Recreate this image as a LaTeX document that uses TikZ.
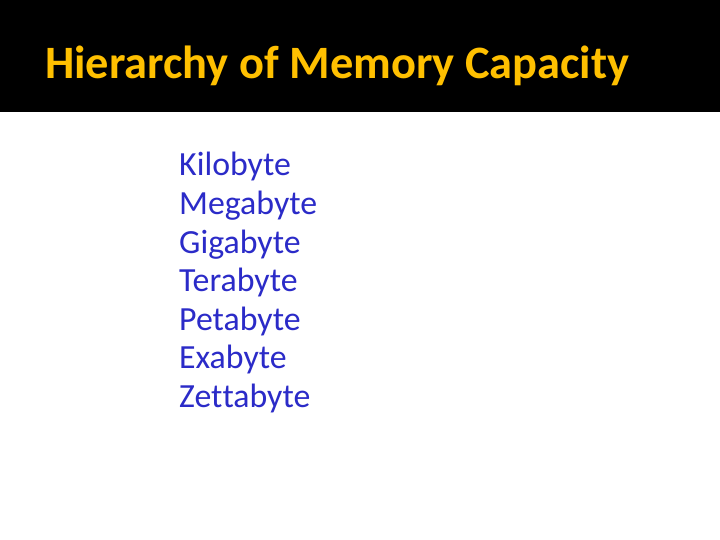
\documentclass[tikz,border=0pt]{standalone}
\usepackage{fontspec}
\setmainfont{Carlito}
\definecolor{titlecol}{HTML}{FFC000}
\definecolor{itemcol}{HTML}{2B2BC8}
\begin{document}
\begin{tikzpicture}[x=1pt,y=-1pt,
  item/.style={anchor=base west,inner sep=0pt,text=itemcol,font=\fontsize{33.8}{38}\selectfont}]
\useasboundingbox (0,0) rectangle (720,540);
\fill[white] (0,0) rectangle (720,540);
\fill[black] (0,0) rectangle (720,112);
\node[anchor=base west,inner sep=0pt,text=titlecol,font=\bfseries\fontsize{46.4}{50}\selectfont] (title) at (45,79) {Hierarchy of Memory Capacity};
\node[item] (k) at (179,176) {Kilobyte};
\node[item] (m) at (179,214.5) {Megabyte};
\node[item] (g) at (179,253) {Gigabyte};
\node[item] (t) at (179,291.5) {Terabyte};
\node[item] (p) at (179,330) {Petabyte};
\node[item] (e) at (179,368.5) {Exabyte};
\node[item] (z) at (179,407) {Zet\kern0pt tabyte};
\end{tikzpicture}
\end{document}
